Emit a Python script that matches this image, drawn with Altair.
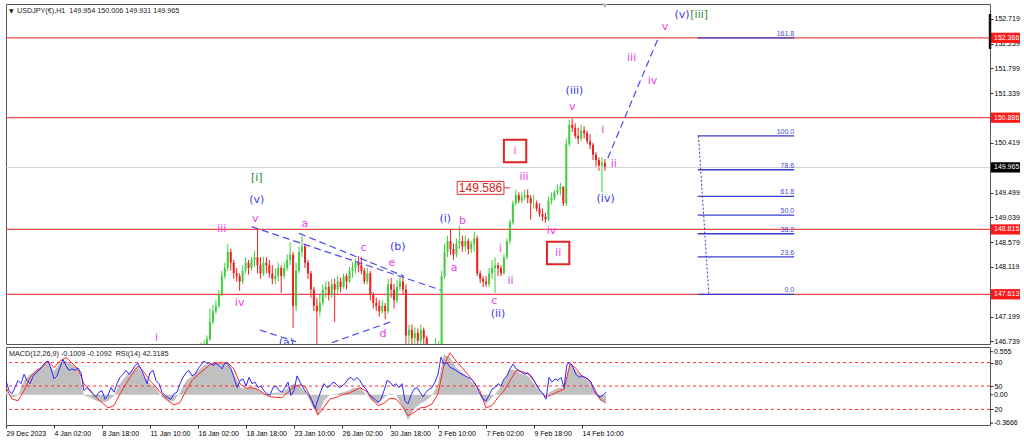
import json
import altair as alt
import pandas as pd

# ---------------------------------------------------------------- styling
FONT = "Liberation Sans"
WAVE_FONT = "DejaVu Sans"
GREEN = "#3fcf3f"
RED = "#f01e1e"
LEVEL_RED = "#f04848"
PINK = "#ee3fe8"
BLUE = "#3a3af2"
DARK_GREEN = "#2e8b2e"
FIB_BLUE = "#3c3ccc"

W, H_MAIN, H_IND = 984, 340, 78
X_DOMAIN = [0, 1312]                 # H1 bar index from 29 Dec 2023
PRICE_DOMAIN = [146.692, 152.993]
MACD_DOMAIN = [-0.39, 0.615]

# ---------------------------------------------------------------- price data
BARS_PER_CANDLE = 4                  # each drawn candle groups four H1 bars
FIRST_CANDLE = 64

first_open = 146.50
close = [
    146.62, 146.68, 146.78, 147.10, 147.30, 147.40, 147.62, 147.95, 148.10, 148.40,
    148.20, 148.00, 147.95, 147.85, 148.05, 148.20, 148.10, 148.25, 148.30, 148.15,
    148.00, 148.20, 148.15, 148.00, 147.90, 147.95, 148.10, 147.95, 148.10, 148.25,
    148.35, 147.40, 148.05, 148.40, 148.50, 148.20, 148.00, 147.70, 147.40, 147.30,
    147.45, 147.70, 147.75, 147.60, 147.80, 147.70, 147.85, 147.75, 147.95, 147.85,
    148.05, 148.10, 148.20, 148.15, 148.05, 147.85, 148.00, 147.60, 147.45, 147.40,
    147.30, 147.40, 147.30, 147.80, 147.70, 147.50, 147.75, 147.85, 147.70, 146.85,
    146.95, 146.80, 146.90, 146.75, 146.95, 146.80, 146.50, 146.40, 146.45, 146.55,
    146.60, 147.95, 148.40, 148.60, 148.45, 148.35, 148.55, 148.60, 148.50, 148.60,
    148.45, 148.55, 148.65, 148.00, 147.90, 147.85, 147.80, 148.00, 148.10, 148.15,
    148.10, 148.00, 148.30, 148.60, 148.95, 149.30, 149.45, 149.35, 149.42, 149.45,
    149.40, 149.30, 149.30, 149.20, 149.10, 149.05, 149.00, 149.35, 149.40, 149.50,
    149.55, 149.60, 149.30, 150.40, 150.75, 150.70, 150.55, 150.50, 150.65, 150.60,
    150.45, 150.38, 150.20, 150.10, 150.00, 150.05, 149.965,
]
high = [
    146.72, 146.76, 146.85, 147.35, 147.42, 147.50, 147.70, 148.05, 148.20, 148.54,
    148.45, 148.25, 148.10, 148.00, 148.15, 148.30, 148.25, 148.30, 148.42, 148.83,
    148.30, 148.30, 148.30, 148.25, 148.15, 148.10, 148.20, 148.15, 148.20, 148.35,
    148.57, 148.40, 148.20, 148.50, 148.69, 148.55, 148.25, 148.05, 147.75, 147.55,
    147.60, 147.80, 147.85, 147.85, 147.90, 147.90, 147.95, 147.92, 148.00, 148.00,
    148.12, 148.20, 148.27, 148.32, 148.30, 148.10, 148.10, 148.05, 147.65, 147.55,
    147.50, 147.50, 147.45, 147.90, 147.92, 147.80, 147.88, 147.95, 147.95, 147.80,
    147.05, 147.05, 147.00, 146.98, 147.05, 147.00, 146.85, 146.60, 146.60, 146.80,
    146.75, 148.05, 148.55, 148.70, 148.82, 148.55, 148.65, 148.88, 148.70, 148.70,
    148.65, 148.60, 148.78, 148.70, 148.05, 147.95, 147.95, 148.10, 148.25, 148.30,
    148.20, 148.15, 148.35, 148.65, 149.00, 149.35, 149.55, 149.50, 149.50, 149.55,
    149.56, 149.45, 149.45, 149.35, 149.30, 149.20, 149.12, 149.42, 149.50, 149.55,
    149.65, 149.68, 149.62, 150.50, 150.85, 150.87, 150.78, 150.70, 150.75, 150.73,
    150.65, 150.58, 150.42, 150.25, 150.15, 150.15, 150.12,
]
low = [
    146.40, 146.55, 146.60, 146.75, 147.05, 147.25, 147.35, 147.58, 147.90, 148.05,
    148.05, 147.90, 147.85, 147.68, 147.80, 148.00, 147.98, 148.05, 148.12, 148.00,
    147.90, 147.95, 148.00, 147.92, 147.80, 147.80, 147.85, 147.64, 147.90, 148.05,
    148.15, 146.99, 147.30, 148.00, 148.30, 148.10, 147.90, 147.55, 147.30, 146.60,
    147.20, 147.40, 147.55, 147.50, 147.55, 147.10, 147.60, 147.65, 147.72, 147.70,
    147.82, 147.92, 148.00, 148.02, 147.98, 147.80, 147.80, 147.50, 147.35, 147.30,
    147.20, 147.25, 147.15, 147.25, 147.55, 147.35, 147.45, 147.68, 147.60, 146.60,
    146.60, 146.55, 146.60, 146.55, 146.60, 146.60, 146.30, 146.20, 146.30, 146.35,
    146.45, 146.55, 147.90, 148.30, 148.35, 148.25, 148.30, 148.45, 148.40, 148.40,
    148.35, 148.38, 148.40, 147.95, 147.82, 147.75, 147.75, 147.75, 147.90, 147.64,
    147.95, 147.95, 147.98, 148.25, 148.55, 148.90, 149.25, 149.30, 149.30, 149.35,
    149.30, 149.00, 149.20, 149.15, 149.05, 148.97, 148.94, 148.97, 149.28, 149.35,
    149.45, 149.45, 149.25, 149.25, 150.35, 150.62, 150.50, 150.40, 150.45, 150.50,
    150.40, 150.30, 150.10, 149.98, 149.90, 149.50, 149.90,
]

# ---------------------------------------------------------------- indicator data
RSI_STEP = 4      # one RSI value per four H1 bars
MACD_STEP = 8     # one MACD / signal value per eight H1 bars
rsi = [
    57, 44, 40, 48, 57, 53, 65, 57, 53, 62, 67, 70, 75, 80, 82, 72, 59, 63, 74, 84,
    76, 70, 72, 70, 73, 67, 44, 48, 45, 40, 36, 42, 44, 33, 38, 48, 42, 53, 61, 65,
    70, 65, 70, 76, 79, 72, 63, 53, 67, 70, 57, 53, 42, 38, 35, 33, 40, 42, 53, 61,
    67, 70, 63, 65, 72, 77, 82, 79, 80, 76, 79, 76, 72, 80, 78, 72, 61, 48, 57, 59,
    50, 61, 53, 55, 48, 50, 44, 40, 38, 48, 50, 44, 42, 48, 55, 38, 44, 63, 55, 48,
    42, 38, 31, 21, 33, 44, 53, 48, 50, 55, 53, 48, 50, 53, 59, 61, 57, 61, 57, 50,
    46, 40, 36, 33, 29, 33, 44, 57, 55, 50, 53, 48, 53, 31, 27, 38, 46, 48, 42, 36,
    42, 46, 48, 55, 65, 87, 78, 80, 74, 72, 70, 67, 65, 63, 61, 59, 55, 48, 40, 33,
    31, 38, 46, 48, 53, 50, 59, 63, 72, 78, 72, 70, 67, 65, 67, 63, 57, 50, 44, 40,
    33, 61, 55, 59, 57, 61, 48, 78, 80, 74, 65, 61, 63, 61, 59, 55, 44, 38, 36, 38,
    42.3185,
]
macd_main = [
    0.05, -0.035, -0.01, 0.18, 0.26, 0.31, 0.37, 0.41, 0.31, 0.41,
    0.44, 0.39, 0.35, -0.01, -0.035, -0.077, -0.1, -0.077, -0.01, 0.14,
    0.24, 0.31, 0.36, 0.24, 0.14, 0.09, -0.035, -0.085, -0.077, 0.03,
    0.18, 0.24, 0.31, 0.38, 0.4, 0.41, 0.4, 0.39, 0.26, 0.09,
    0.085, 0.1, 0.07, 0.03, 0.01, 0.03, 0.03, 0.09, 0.14, 0.11,
    0.03, -0.14, -0.27, -0.077, 0.0, 0.01, 0.03, 0.05, 0.09, 0.09,
    0.01, -0.077, -0.12, -0.035, 0.015, 0.0, -0.14, -0.33, -0.18, -0.12,
    -0.077, -0.01, 0.14, 0.52, 0.48, 0.35, 0.29, 0.22, 0.14, -0.01,
    -0.12, -0.035, 0.05, 0.18, 0.33, 0.31, 0.26, 0.24, 0.14, 0.03,
    0.0, 0.05, 0.09, 0.09, 0.39, 0.31, 0.24, 0.18, 0.05, -0.077,
    -0.1009,
]
macd_signal = [
    0.09, -0.055, -0.077, 0.05, 0.22, 0.31, 0.35, 0.435, 0.35, 0.435,
    0.48, 0.41, 0.33, 0.14, 0.05, -0.035, -0.1, -0.17, -0.14, 0.01,
    0.14, 0.26, 0.37, 0.29, 0.18, 0.1, 0.01, -0.077, -0.13, -0.1,
    0.05, 0.18, 0.26, 0.32, 0.39, 0.41, 0.41, 0.41, 0.33, 0.14,
    0.085, 0.09, 0.07, 0.01, -0.025, -0.035, -0.035, 0.03, 0.1, 0.13,
    0.09, -0.077, -0.26, -0.16, -0.055, -0.035, 0.0, 0.015, 0.05, 0.09,
    0.05, -0.055, -0.14, -0.11, -0.045, -0.055, -0.14, -0.27, -0.23, -0.17,
    -0.16, -0.12, 0.01, 0.39, 0.54, 0.435, 0.35, 0.26, 0.16, 0.05,
    -0.17, -0.14, -0.035, 0.05, 0.18, 0.31, 0.3, 0.27, 0.18, 0.05,
    -0.025, 0.0, 0.04, 0.07, 0.4, 0.34, 0.24, 0.2, 0.09, -0.055,
    -0.1092,
]
rsi_levels = [80, 50, 20]
macd_marks = [0.555, 0.0, -0.3666]
macd_mark_text = ["0.555", "0.00", "-0.3666"]

# ---------------------------------------------------------------- axes text
date_labels = [
    "29 Dec 2023", "4 Jan 02:00", "8 Jan 18:00", "11 Jan 10:00", "16 Jan 02:00",
    "18 Jan 18:00", "23 Jan 10:00", "26 Jan 02:00", "30 Jan 18:00", "2 Feb 10:00",
    "7 Feb 02:00", "9 Feb 18:00", "14 Feb 10:00",
]
BARS_PER_DATE_LABEL = 64
price_ticks = [152.719, 152.259, 151.799, 151.339, 150.879, 150.419, 149.959,
               149.499, 149.039, 148.579, 148.119, 147.659, 147.199, 146.739]
level_prices = [152.366, 150.886, 148.815, 147.613]
bid_price = 149.965
title_text = "USDJPY(€),H1\u00a0\u00a0149.954 150.006 149.931 149.965"
ind_title = "MACD(12,26,9) -0.1009 -0.1092\u00a0\u00a0RSI(14) 42.3185"

# ---------------------------------------------------------------- fibonacci
fib_low, fib_high = 147.613, 150.55
fib_levels = [0.0, 23.6, 38.2, 50.0, 61.8, 78.6, 100.0, 161.8]
FIB_T0, FIB_T1 = 925, 1055

# ---------------------------------------------------------------- wave count
wave_text = ["i", "iii", "iv", "v", "a", "c", "e", "d", "a", "b", "i", "ii", "c",
             "iii", "iv", "v", "i", "ii", "iii", "iv", "v"]
wave_bar = [196, 284, 308, 329, 396, 475, 513, 501, 597, 608, 659, 673, 651,
            691, 728, 756, 797, 812, 836, 864, 881]
wave_price = [146.80, 148.823, 147.452, 149.008, 148.916, 148.471, 148.193, 146.877,
              148.10, 148.971, 148.452, 147.859, 147.489, 149.787, 148.786, 151.084,
              150.658, 150.028, 151.992, 151.566, 152.567]

minute_text = ["(v)", "(b)", "(i)", "(ii)", "(iii)", "(iv)", "(v)", "(a)"]
minute_bar = [331, 521, 585, 656, 759, 801, 904, 371]
minute_price = [149.36, 148.49, 149.008, 147.248, 151.381, 149.379, 152.789, 146.71]

minor_text = ["[i]", "[iii]"]
minor_bar = [331, 927]
minor_price = [149.768, 152.789]

boxed_text = ["i", "ii"]
boxed_bar = [679, 737]
boxed_price = [150.269, 148.378]

marked_price = 149.586
MARK_T0, MARK_T1, MARK_TAIL = 601, 664, 672

# trend / channel lines: (start bar, start price, end bar, end price)
seg_t0 = [324, 388, 335, 432, 804]
seg_p0 = [148.866, 148.743, 146.951, 146.716, 150.139]
seg_t1 = [579, 529, 384, 512, 872]
seg_p1 = [147.693, 147.952, 146.735, 147.105, 152.366]

# ---------------------------------------------------------------- frames
cdf = pd.DataFrame({
    "t": [(FIRST_CANDLE + i) * BARS_PER_CANDLE for i in range(len(close))],
    "o": [first_open] + close[:-1],
    "h": high, "l": low, "c": close,
})
cdf["dir"] = ["up" if c >= o else "down" for o, c in zip(cdf["o"], cdf["c"])]

xs = alt.Scale(domain=X_DOMAIN, nice=False, zero=False)
ps = alt.Scale(domain=PRICE_DOMAIN, nice=False, zero=False)

# every layer on the price scale carries the same right-hand axis so they merge
price_axis = alt.Axis(orient="right", values=price_ticks, format=".3f", tickSize=3,
                      labelPadding=1, domain=False, grid=False, title=None,
                      labelFontSize=7, labelFont=FONT, labelColor="black",
                      tickColor="#333", labelOverlap=False, zindex=0)


def px(field="t"):
    return alt.X(f"{field}:Q", scale=xs, axis=None)


def py(field="p"):
    return alt.Y(f"{field}:Q", scale=ps, axis=price_axis)


# horizontal levels
level_lines = alt.Chart(pd.DataFrame({"p": level_prices})).mark_rule(
    color=LEVEL_RED, strokeWidth=1.3).encode(y=py())
bid_line = alt.Chart(pd.DataFrame({"p": [bid_price]})).mark_rule(
    color="#d2d2d2", strokeWidth=1).encode(y=py())

# fibonacci retracement
fib_base = alt.Chart(pd.DataFrame({"level": fib_levels})).transform_calculate(
    p=f"{fib_low} + datum.level / 100 * ({fib_high} - {fib_low})",
    t0=f"{FIB_T0}", t1=f"{FIB_T1}")
fib_lines = fib_base.mark_rule(color=FIB_BLUE, strokeWidth=1.3).encode(
    x=px("t0"), x2="t1:Q", y=py())
fib_text = fib_base.mark_text(align="right", baseline="bottom", dy=-1, fontSize=7,
                              font=FONT, color="#4a4ad8").encode(
    x=px("t1"), y=py(), text=alt.Text("level:Q", format=".1f"))
fib_diag = alt.Chart(pd.DataFrame({"t0": [926], "p0": [fib_high], "t1": [940],
                                   "p1": [fib_low]})).mark_rule(
    color=FIB_BLUE, strokeWidth=1, strokeDash=[2, 2]).encode(
    x=px("t0"), x2="t1:Q", y=py("p0"), y2="p1:Q")

# dashed wave lines
seg_df = pd.DataFrame({"t0": seg_t0, "p0": seg_p0, "t1": seg_t1, "p1": seg_p1})
segments = alt.Chart(seg_df).mark_rule(color="#4a4af0", strokeWidth=1.2,
                                       strokeDash=[7, 4], clip=True).encode(
    x=px("t0"), x2="t1:Q", y=py("p0"), y2="p1:Q")

# candles
ccol = alt.Color("dir:N", scale=alt.Scale(domain=["up", "down"], range=[GREEN, RED]),
                 legend=None)
wicks = alt.Chart(cdf).mark_rule(strokeWidth=1, clip=True).encode(
    x=px(), y=py("l"), y2="h:Q", color=ccol)
bodies = alt.Chart(cdf).mark_bar(size=2, clip=True).encode(
    x=px(), y=py("o"), y2="c:Q", color=ccol)


def labels(texts, bars, prices, color):
    df = pd.DataFrame({"s": texts, "t": bars, "p": prices})
    return alt.Chart(df).mark_text(font=WAVE_FONT, fontSize=11, color=color,
                                   align="center", baseline="middle", clip=True).encode(
        x=px(), y=py(), text="s:N")


wave_labels = labels(wave_text, wave_bar, wave_price, PINK)
minute_labels = labels(minute_text, minute_bar, minute_price, BLUE)
minor_labels = labels(minor_text, minor_bar, minor_price, DARK_GREEN)

boxed_df = pd.DataFrame({"s": boxed_text, "t": boxed_bar, "p": boxed_price})
boxed_frame = alt.Chart(boxed_df).mark_point(shape="square", size=500, filled=False,
                                             color="#e02424", strokeWidth=2,
                                             opacity=1).encode(
    x=px(), y=py())
boxed_labels = labels(boxed_text, boxed_bar, boxed_price, PINK)

# price marker label
mark_df = pd.DataFrame({"p": [marked_price], "t0": [MARK_T0], "t1": [MARK_T1],
                        "t2": [MARK_TAIL], "tc": [(MARK_T0 + MARK_T1) / 2]})
mark_box = alt.Chart(mark_df).transform_calculate(
    top="datum.p + 0.12", bot="datum.p - 0.12").mark_rect(
    fill="white", stroke="#e03030", strokeWidth=1).encode(
    x=px("t0"), x2="t1:Q", y=py("top"), y2="bot:Q")
mark_tail = alt.Chart(mark_df).mark_rule(color="#e03030", strokeWidth=1).encode(
    x=px("t1"), x2="t2:Q", y=py())
mark_text = alt.Chart(mark_df).mark_text(font=FONT, fontSize=12, color="#e02020",
                                         baseline="middle", align="center").encode(
    x=px("tc"), y=py(), text=alt.Text("p:Q", format=".3f"))


# right-hand price boxes
def price_box(prices, bg):
    df = pd.DataFrame({"p": prices})
    rect = alt.Chart(df).transform_calculate(
        top="datum.p + 0.095", bot="datum.p - 0.095").mark_rect(color=bg).encode(
        x=alt.value(W + 1), x2=alt.value(W + 30), y=py("top"), y2="bot:Q")
    txt = alt.Chart(df).mark_text(font=FONT, fontSize=7, color="white", align="left",
                                  baseline="middle").encode(
        x=alt.value(W + 4), y=py(), text=alt.Text("p:Q", format=".3f"))
    return rect + txt


red_boxes = price_box(level_prices, "#ff1a1a")
bid_box = price_box([bid_price], "#000000")

header = alt.Chart(pd.DataFrame({"s": [title_text]})).mark_text(
    align="left", baseline="middle", fontSize=7.2, font=FONT, color="#222").encode(
    text="s:N", x=alt.value(11), y=alt.value(7))
header_arrow = alt.Chart(pd.DataFrame({"s": ["▼"]})).mark_text(
    align="left", baseline="middle", fontSize=6, font=WAVE_FONT, color="#222").encode(
    text="s:N", x=alt.value(3), y=alt.value(7))
scroll_mark = alt.Chart(pd.DataFrame({"s": [0]})).mark_rule(
    color="#111", strokeWidth=2.5).encode(x=alt.value(W), y=alt.value(10), y2=alt.value(45))
shift_mark = alt.Chart(pd.DataFrame({"t": [cdf["t"].iloc[-1]]})).mark_point(
    shape="triangle-down", filled=True, color="#b8b8b8", size=30, opacity=1).encode(
    x=px(), y=alt.value(2))

main = alt.layer(
    wicks, level_lines, bid_line, fib_lines, fib_text, fib_diag, segments, bodies,
    wave_labels, minute_labels, minor_labels, boxed_frame, boxed_labels,
    mark_box, mark_tail, mark_text, red_boxes, bid_box, header, header_arrow,
    scroll_mark, shift_mark,
).properties(width=W, height=H_MAIN)

# ---------------------------------------------------------------- indicator
rsi_df = pd.DataFrame({"t": [i * RSI_STEP for i in range(len(rsi))], "rsi": rsi})
macd_df = pd.DataFrame({"t": [i * MACD_STEP for i in range(len(macd_main))],
                        "macd": macd_main, "signal": macd_signal})
ms = alt.Scale(domain=MACD_DOMAIN, nice=False, zero=False)
rs = alt.Scale(domain=[0, 100], nice=False, zero=False)

date_expr = f"{json.dumps(date_labels)}[round(datum.value / {BARS_PER_DATE_LABEL})]"
date_axis = alt.Axis(values=[BARS_PER_DATE_LABEL * i for i in range(len(date_labels))],
                     labelExpr=date_expr, labelAlign="left", tickSize=3,
                     labelPadding=1, domain=False, grid=False, title=None,
                     labelFontSize=7, labelFont=FONT, labelColor="black",
                     tickColor="#333", labelOverlap=False)
rsi_axis = alt.Axis(orient="right", values=rsi_levels, tickSize=3, labelPadding=1,
                    domain=False, grid=False, title=None, labelFontSize=7,
                    labelFont=FONT, labelColor="black", tickColor="#333",
                    labelOverlap=False)
tx = alt.X("t:Q", scale=xs, axis=date_axis)

hist = alt.Chart(macd_df).mark_area(color="#c0c0c0", clip=True).encode(
    x=tx, y=alt.Y("macd:Q", scale=ms, axis=None), y2=alt.datum(0))
signal = alt.Chart(macd_df).mark_line(color="#ff2a2a", strokeWidth=1, clip=True).encode(
    x=tx, y=alt.Y("signal:Q", scale=ms, axis=None))
mk_df = pd.DataFrame({"v": macd_marks, "s": macd_mark_text})
macd_text = alt.Chart(mk_df).mark_text(font=FONT, fontSize=7, color="black",
                                       align="left", baseline="middle").encode(
    x=alt.value(W + 4), y=alt.Y("v:Q", scale=ms, axis=None), text="s:N")
macd_ticks = alt.Chart(mk_df).mark_rule(color="#333").encode(
    x=alt.value(W), x2=alt.value(W + 3), y=alt.Y("v:Q", scale=ms, axis=None))
ind_header = alt.Chart(pd.DataFrame({"s": [ind_title]})).mark_text(
    align="left", baseline="middle", fontSize=7.2, font=FONT, color="#222").encode(
    text="s:N", x=alt.value(3), y=alt.value(7))
macd_layer = alt.layer(hist, signal, macd_text, macd_ticks, ind_header)

rsi_rules = alt.Chart(pd.DataFrame({"v": rsi_levels})).mark_rule(
    color="#ff3030", strokeWidth=1, strokeDash=[3, 3]).encode(
    y=alt.Y("v:Q", scale=rs, axis=rsi_axis))
rsi_line = alt.Chart(rsi_df).mark_line(color="#2a2aff", strokeWidth=1, clip=True).encode(
    x=tx, y=alt.Y("rsi:Q", scale=rs, axis=rsi_axis))
rsi_layer = alt.layer(rsi_rules, rsi_line)

indicator = alt.layer(macd_layer, rsi_layer).resolve_scale(y="independent").properties(
    width=W, height=H_IND)

chart = alt.vconcat(main, indicator, spacing=1).properties(
    padding={"left": 4, "top": 3, "right": 2, "bottom": 2}
).configure(background="white").configure_view(stroke="#555555", strokeWidth=1)

chart.save("out.html", embed_options={"renderer": "svg", "actions": False})
